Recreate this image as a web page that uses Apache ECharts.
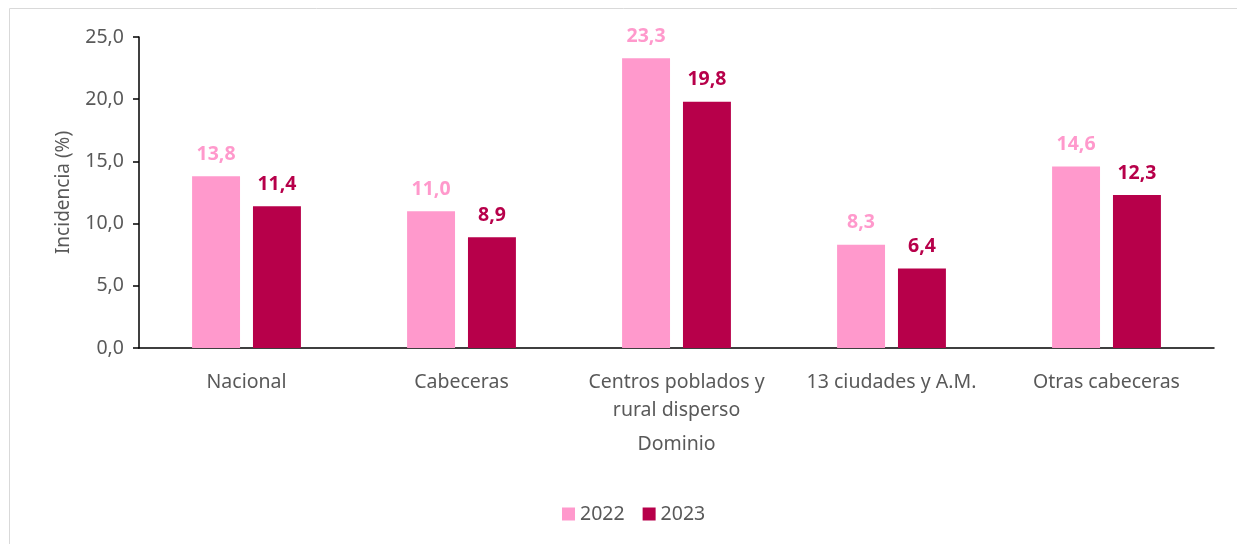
<!DOCTYPE html>
<html>
<head>
<meta charset="utf-8">
<script src="https://cdn.jsdelivr.net/npm/echarts@6/dist/echarts.min.js"></script>
<style>
html,body{margin:0;padding:0;background:#fff;}
#c{width:1237px;height:544px;}
</style>
</head>
<body>
<div id="c"></div>
<script>
const categories = ['Nacional', 'Cabeceras', 'Centros poblados y\nrural disperso', '13 ciudades y A.M.', 'Otras cabeceras'];
const values2022 = [13.8, 11.0, 23.3, 8.3, 14.6];
const values2023 = [11.4, 8.9, 19.8, 6.4, 12.3];
const seriesNames = ['2022', '2023'];
const yTicks = [0, 5, 10, 15, 20, 25];

const FONT = '"Noto Sans", "Open Sans", sans-serif';
const C1 = '#FF99CC';
const C2 = '#B7004A';
const GREY = '#595959';
const fmt = v => v.toFixed(1).replace('.', ',');

const chart = echarts.init(document.getElementById('c'));
chart.setOption({
  animation: false,
  textStyle: { fontFamily: FONT },
  grid: { left: 139, right: 23, top: 37, bottom: 196 },
  graphic: [{
    type: 'rect',
    shape: { x: 9.5, y: 8.5, width: 1240, height: 540 },
    style: { fill: 'none', stroke: '#d9d9d9', lineWidth: 1 },
    silent: true
  }],
  legend: {
    data: seriesNames,
    left: 557, top: 499,
    itemWidth: 13, itemHeight: 13, itemGap: 18,
    icon: 'rect',
    textStyle: { fontFamily: FONT, fontSize: 19.5, color: GREY }
  },
  xAxis: {
    type: 'category',
    data: categories,
    name: 'Dominio',
    nameLocation: 'middle',
    nameGap: 86,
    nameTextStyle: { fontFamily: FONT, fontSize: 19.5, color: GREY },
    axisLine: { lineStyle: { color: '#000', width: 1.5 } },
    axisTick: { show: false },
    axisLabel: { interval: 0, hideOverlap: false, fontFamily: FONT, fontSize: 19.5, color: GREY, margin: 20, lineHeight: 28 }
  },
  yAxis: {
    type: 'value',
    min: yTicks[0], max: yTicks[yTicks.length - 1], interval: 5,
    name: 'Incidencia (%)',
    nameLocation: 'middle',
    nameGap: 66,
    nameTextStyle: { fontFamily: FONT, fontSize: 19, color: GREY },
    axisLine: { show: true, lineStyle: { color: '#000', width: 1.5 } },
    axisTick: { show: true, length: 6, lineStyle: { color: '#000', width: 1.5 } },
    splitLine: { show: false },
    axisLabel: { fontFamily: FONT, fontSize: 19.5, color: GREY, margin: 15, formatter: v => fmt(v) }
  },
  series: [
    {
      name: seriesNames[0], type: 'bar', data: values2022,
      barWidth: '22.3%', barGap: '27%',
      itemStyle: { color: C1 },
      label: { show: true, position: 'top', distance: 12, formatter: p => fmt(p.value),
        fontFamily: FONT, fontSize: 19.5, fontWeight: 'bold', color: C1 }
    },
    {
      name: seriesNames[1], type: 'bar', data: values2023,
      barWidth: '22.3%',
      itemStyle: { color: C2 },
      label: { show: true, position: 'top', distance: 12, formatter: p => fmt(p.value),
        fontFamily: FONT, fontSize: 19.5, fontWeight: 'bold', color: C2 }
    }
  ]
});
</script>
</body>
</html>
